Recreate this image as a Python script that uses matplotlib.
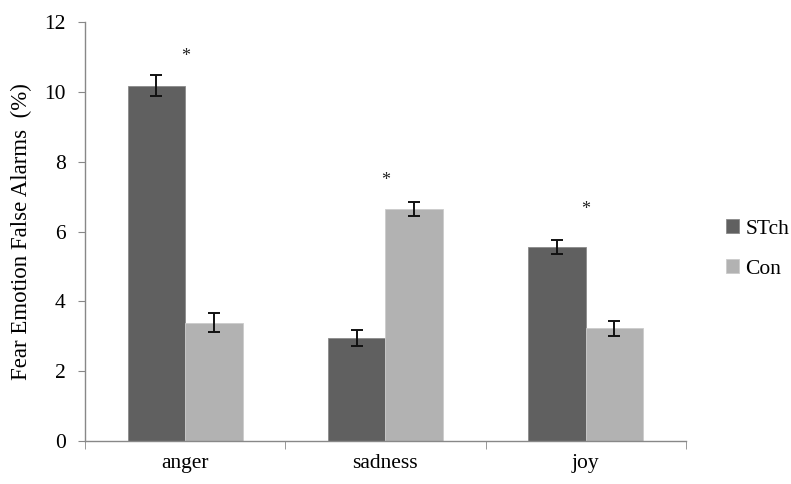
import numpy as np
import matplotlib
matplotlib.use('Agg')
import matplotlib.pyplot as plt

categories = ['anger', 'sadness', 'joy']
stch_vals = [10.18, 2.95, 5.57]
stch_err = [0.30, 0.23, 0.20]
con_vals = [3.39, 6.65, 3.23]
con_err = [0.28, 0.20, 0.21]
star_y = [11.0, 7.45, 6.62]

plt.rcParams['font.family'] = ['Liberation Serif', 'DejaVu Serif']

fig = plt.figure(figsize=(7.91, 4.84), dpi=100)
ax = fig.add_axes([0.1075, 0.0888, 0.7595, 0.8657])

x = np.arange(len(categories))
w = 0.287
err_kw = dict(ecolor='#111111', elinewidth=1.4, capthick=1.4)
ax.bar(x - w / 2, stch_vals, w, yerr=stch_err, capsize=4.2, color='#606060',
       edgecolor='#8a8a8a', linewidth=0.6, error_kw=err_kw, label='STch')
ax.bar(x + w / 2, con_vals, w, yerr=con_err, capsize=4.2, color='#b2b2b2',
       edgecolor='#cccccc', linewidth=0.6, error_kw=err_kw, label='Con')

for xi, sy in zip(x, star_y):
    ax.text(xi, sy, '*', ha='center', va='center', fontsize=13, color='#222222')

ax.set_xlim(-0.5, len(categories) - 0.5)
ax.set_ylim(0, 12)
ax.set_yticks(np.arange(0, 13, 2))
ax.set_xticks(x)
ax.set_xticklabels(categories)
ax.set_xticks(np.arange(-0.5, len(categories), 1), minor=True)
ax.tick_params(axis='x', which='major', length=0, pad=9, labelsize=15.5)
ax.tick_params(axis='x', which='minor', length=6, direction='out', color='#888888')
ax.tick_params(axis='y', length=5, direction='out', color='#888888', labelsize=15.5, pad=9)

for s in ['top', 'right']:
    ax.spines[s].set_visible(False)
for s in ['left', 'bottom']:
    ax.spines[s].set_color('#888888')
    ax.spines[s].set_linewidth(1.0)

ax.set_ylabel('Fear Emotion False Alarms  (%)', fontsize=16.5, labelpad=9)

ax.legend(loc='upper left', bbox_to_anchor=(1.035, 0.575), frameon=False,
          fontsize=15.5, handlelength=0.6, handleheight=0.6, handletextpad=0.3,
          labelspacing=0.95)

fig.savefig('out.png', dpi=100)
